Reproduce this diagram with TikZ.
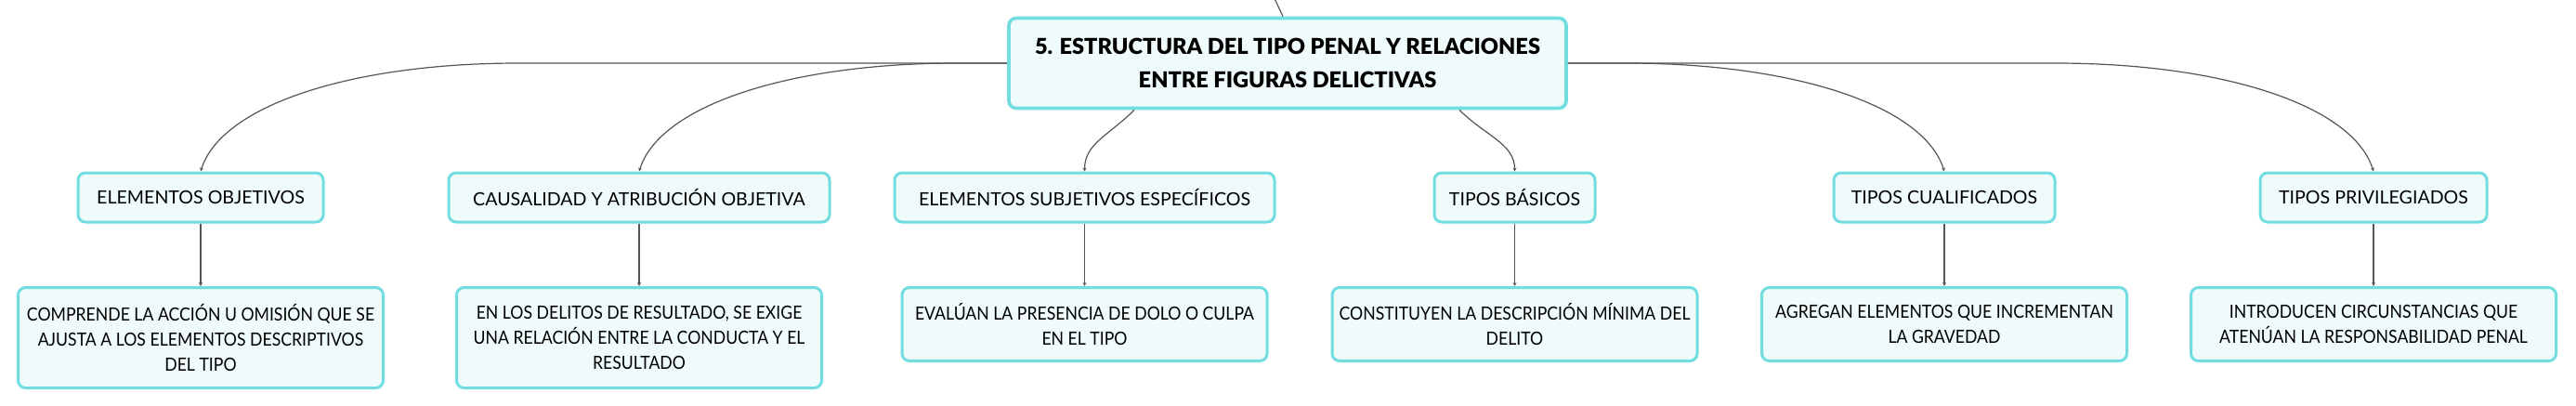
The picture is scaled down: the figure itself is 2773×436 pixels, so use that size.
\documentclass[tikz,border=0pt]{standalone}
\usepackage{fontspec}
\setmainfont{Lato}
\IfFontExistsTF{Lato Black}{\newfontfamily\headfont{Lato Black}}{\newcommand\headfont{\bfseries}}
\usetikzlibrary{arrows.meta}
\definecolor{boxfill}{HTML}{EFFAFB}
\definecolor{boxline}{HTML}{72DDE0}
\definecolor{linkgray}{HTML}{555555}
\begin{document}
\begin{tikzpicture}[x=0.5pt, y=-0.5pt,
    box/.style={draw=boxline, line width=1.5pt, fill=boxfill, rounded corners=4pt,
        align=center, inner sep=0pt, font=\fontsize{9.8}{13.5}\selectfont},
    topbox/.style={box, line width=1.8pt, font=\fontsize{11.8}{18}\selectfont\headfont},
    subbox/.style={box, minimum height=26.5pt},
    notebox/.style={box, anchor=north, minimum width=196.5pt,
        font=\fontsize{9.8}{13.5}\selectfont\addfontfeatures{FakeStretch=0.9}},
    link/.style={draw=linkgray, line width=0.6pt, -{Stealth[length=2pt, width=2pt]}}]
    \useasboundingbox (0,0) rectangle (2773,436);
    \clip (0,0) rectangle (2773,436);
    \node[topbox, minimum width=300pt, minimum height=48.5pt] (root) at (1386,68)
        {5. ESTRUCTURA DEL TIPO PENAL Y RELACIONES\\ENTRE FIGURAS DELICTIVAS};
    \coordinate (up) at (1369,-8);
    \draw[linkgray, line width=0.6pt] (up) -- ([xshift=-2.5pt]root.north);

    \node[subbox, minimum width=132pt]   (obj)  at (216,212.5)    {ELEMENTOS OBJETIVOS};
    \node[subbox, minimum width=205pt]   (caus) at (688,212.5)    {CAUSALIDAD Y ATRIBUCIÓN OBJETIVA};
    \node[subbox, minimum width=204.5pt] (subj) at (1167.5,212.5) {ELEMENTOS SUBJETIVOS ESPECÍFICOS};
    \node[subbox, minimum width=86.5pt]  (bas)  at (1630.5,212.5) {TIPOS BÁSICOS};
    \node[subbox, minimum width=119pt]   (cual) at (2093,212.5)   {TIPOS CUALIFICADOS};
    \node[subbox, minimum width=122pt]   (priv) at (2555,212.5)   {TIPOS PRIVILEGIADOS};

    \node[notebox, minimum height=54pt]   (objnote)  at (216,308)
        {COMPRENDE LA ACCIÓN U OMISIÓN QUE SE\\AJUSTA A LOS ELEMENTOS DESCRIPTIVOS\\DEL TIPO};
    \node[notebox, minimum height=54pt]   (causnote) at (688,308)
        {EN LOS DELITOS DE RESULTADO, SE EXIGE\\UNA RELACIÓN ENTRE LA CONDUCTA Y EL\\RESULTADO};
    \node[notebox, minimum height=39.5pt] (subjnote) at (1167.5,308)
        {EVALÚAN LA PRESENCIA DE DOLO O CULPA\\EN EL TIPO};
    \node[notebox, minimum height=39.5pt] (basnote)  at (1630.5,308)
        {CONSTITUYEN LA DESCRIPCIÓN MÍNIMA DEL\\DELITO};
    \node[notebox, minimum height=39.5pt] (cualnote) at (2093,308)
        {AGREGAN ELEMENTOS QUE INCREMENTAN\\LA GRAVEDAD};
    \node[notebox, minimum height=39.5pt] (privnote) at (2555,308)
        {INTRODUCEN CIRCUNSTANCIAS QUE\\ATENÚAN LA RESPONSABILIDAD PENAL};

    \draw[link] (root.west) -- ([xshift=171pt]obj.north |- root.west)
        .. controls +(-180,0) and +(22,-71) .. (obj.north);
    \draw[link] (root.west) -- ([xshift=171pt]caus.north |- root.west)
        .. controls +(-180,0) and +(22,-71) .. (caus.north);
    \draw[link] ([xshift=-82.5pt]root.south) .. controls +(-28,28) and +(0,-30) .. (subj.north);
    \draw[link] ([xshift=92.5pt]root.south) .. controls +(28,28) and +(0,-30) .. (bas.north);
    \draw[link] (root.east) -- ([xshift=-171pt]cual.north |- root.east)
        .. controls +(180,0) and +(-22,-71) .. (cual.north);
    \draw[link] (root.east) -- ([xshift=-171pt]priv.north |- root.east)
        .. controls +(180,0) and +(-22,-71) .. (priv.north);

    \draw[link] (obj.south) -- (objnote.north);
    \draw[link] (caus.south) -- (causnote.north);
    \draw[link] (subj.south) -- (subjnote.north);
    \draw[link] (bas.south) -- (basnote.north);
    \draw[link] (cual.south) -- (cualnote.north);
    \draw[link] (priv.south) -- (privnote.north);
\end{tikzpicture}
\end{document}
